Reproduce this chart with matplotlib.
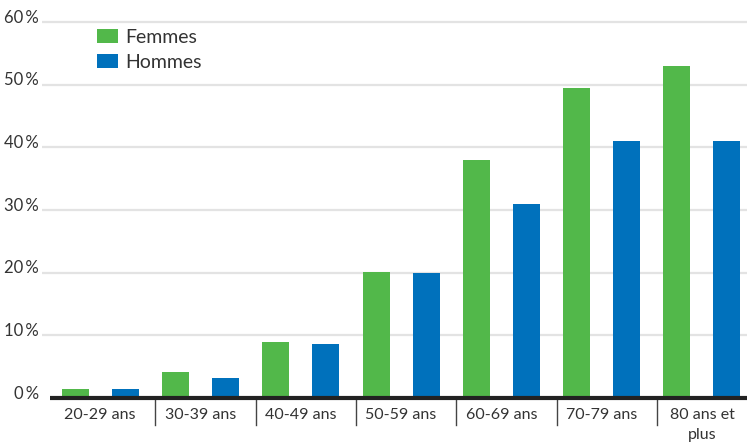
import matplotlib
matplotlib.use("Agg")
import matplotlib.pyplot as plt
import matplotlib.transforms as mtransforms
import numpy as np

categories = ["20-29 ans", "30-39 ans", "40-49 ans", "50-59 ans", "60-69 ans", "70-79 ans", "80 ans et\nplus"]
femmes = [1.4, 4.1, 8.9, 20.1, 37.9, 49.4, 53.0]
hommes = [1.4, 3.2, 8.6, 20.0, 30.9, 41.0, 41.0]
yticks = [0, 10, 20, 30, 40, 50, 60]
ytick_labels = ["0\u2009%", "10\u2009%", "20\u2009%", "30\u2009%", "40\u2009%", "50\u2009%", "60\u2009%"]
series_names = ["Femmes", "Hommes"]

GREEN = "#52B84A"
BLUE = "#0071BC"
TEXT = "#333333"

plt.rcParams['font.family'] = ['Lato', 'DejaVu Sans']

W, H = 747, 446
fig = plt.figure(figsize=(W / 100, H / 100), dpi=100)
left_px, right_px, bottom_px, top_px = 42, 747, 398, 15
ax = fig.add_axes([left_px / W, (H - bottom_px) / H, (right_px - left_px) / W, (bottom_px - top_px) / H])

x = np.arange(len(categories))
unit = 100.3  # px per category
xmin = -0.5 - 8 / unit
xmax = xmin + (right_px - left_px) / unit
ymax = (bottom_px - top_px) / 62.67 * 10
ax.set_xlim(xmin, xmax)
ax.set_ylim(0, ymax)

off = 25 / unit
bw = 27 / unit
b1 = ax.bar(x - off, femmes, bw, color=GREEN, label=series_names[0], zorder=2)
b2 = ax.bar(x + off, hommes, bw, color=BLUE, label=series_names[1], zorder=2)

for s in ax.spines.values():
    s.set_visible(False)
ax.set_xticks([])
ax.set_yticks([])

for yv in yticks[1:]:
    ax.axhline(yv, color="#E3E3E3", lw=1.6, zorder=1)

# baseline
ax.plot([-0.5, xmax], [0, 0], color="#222222", lw=3, solid_capstyle="butt", zorder=3, clip_on=False)

# y labels
ytr = mtransforms.offset_copy(ax.get_yaxis_transform(), fig=fig, x=-2, y=3, units="points")
for yv, lab in zip(yticks, ytick_labels):
    ax.text(0, yv, lab, transform=ytr, ha="right", va="center", fontsize=12, color=TEXT)

# category separators
sep_tr = ax.get_xaxis_transform()
for i in range(len(categories) - 1):
    xs = i + 0.5 + 5 / unit
    ax.plot([xs, xs], [0, -27 / (bottom_px - top_px)], transform=sep_tr, color="#444444", lw=1, clip_on=False)

# x labels
xtr = mtransforms.offset_copy(sep_tr, fig=fig, x=0, y=-7.5, units="points")
for xi, lab in zip(x, categories):
    ax.text(xi, 0, lab, transform=xtr, ha="center", va="top", fontsize=11.5, color=TEXT, linespacing=1.5)

leg = ax.legend(handles=[b1, b2], loc="upper left", bbox_to_anchor=(83 / W, (H - 15) / H),
                bbox_transform=fig.transFigure, frameon=False, fontsize=14,
                handlelength=1.1, handleheight=0.8, handletextpad=0.35, labelspacing=0.4,
                borderpad=0.2)
for t in leg.get_texts():
    t.set_color(TEXT)

fig.savefig("out.png", dpi=100)
